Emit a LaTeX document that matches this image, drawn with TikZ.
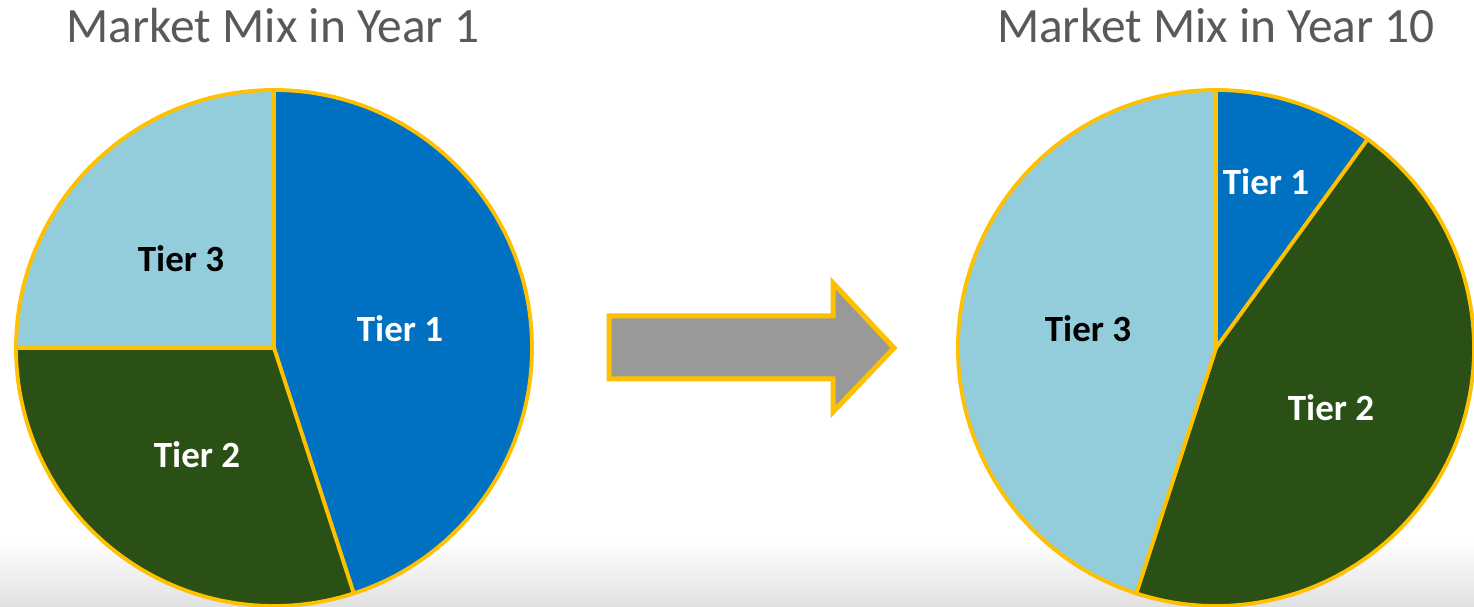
\documentclass[tikz,border=0pt]{standalone}
\usepackage{fontspec}
\setmainfont{Carlito}
\definecolor{tierone}{HTML}{0070C0}
\definecolor{tiertwo}{HTML}{2A5016}
\definecolor{tierthree}{HTML}{93CDDC}
\definecolor{rim}{HTML}{FFC000}
\definecolor{arrowgray}{HTML}{999999}
\definecolor{titlegray}{HTML}{595959}
\tikzset{
  slice/.style={draw=rim, line width=3.8pt, line join=round},
  title/.style={text=titlegray, inner sep=0pt, font=\fontsize{49.4}{54}\selectfont},
  lab/.style={inner sep=0pt, font=\fontsize{37}{42}\selectfont\bfseries},
}
\begin{document}
\begin{tikzpicture}[x=1pt,y=1pt]
\useasboundingbox (0,0) rectangle (1474,607);
\clip (0,0) rectangle (1474,607);
\fill[white] (0,67) rectangle (1474,607);
\shade[top color=white, bottom color=black!12] (0,0) rectangle (1474,67);
% left pie
\coordinate (L) at (274,259);
\def\R{258}
\filldraw[slice, fill=tierone] (L) -- ++(90:\R) arc[start angle=90, end angle=-72, radius=\R] -- cycle;
\filldraw[slice, fill=tiertwo] (L) -- ++(-72:\R) arc[start angle=-72, end angle=-180, radius=\R] -- cycle;
\filldraw[slice, fill=tierthree] (L) -- ++(180:\R) arc[start angle=180, end angle=90, radius=\R] -- cycle;
% right pie
\coordinate (RC) at (1216,259);
\filldraw[slice, fill=tierone] (RC) -- ++(90:\R) arc[start angle=90, end angle=54, radius=\R] -- cycle;
\filldraw[slice, fill=tiertwo] (RC) -- ++(54:\R) arc[start angle=54, end angle=-108, radius=\R] -- cycle;
\filldraw[slice, fill=tierthree] (RC) -- ++(-108:\R) arc[start angle=-108, end angle=-270, radius=\R] -- cycle;
% arrow
\filldraw[draw=rim, fill=arrowgray, line width=5pt, line join=miter]
  (609,291) -- (833,291) -- (833,324) -- (894,259) -- (833,195) -- (833,228) -- (609,228) -- cycle;
% titles
\node[title, anchor=base] (t1) at (273,564) {Market Mix in Year 1};
\node[title, anchor=base] (t2) at (1216,564) {Market Mix in Year 10};
% labels
\node[lab, text=black] (l3) at (181,348) {Tier 3};
\node[lab, text=white] (l1) at (400,278) {Tier 1};
\node[lab, text=white] (l2) at (197,152) {Tier 2};
\node[lab, text=white] (r1) at (1266,425) {Tier 1};
\node[lab, text=black] (r3) at (1088,278) {Tier 3};
\node[lab, text=white] (r2) at (1331,199) {Tier 2};
\end{tikzpicture}
\end{document}
